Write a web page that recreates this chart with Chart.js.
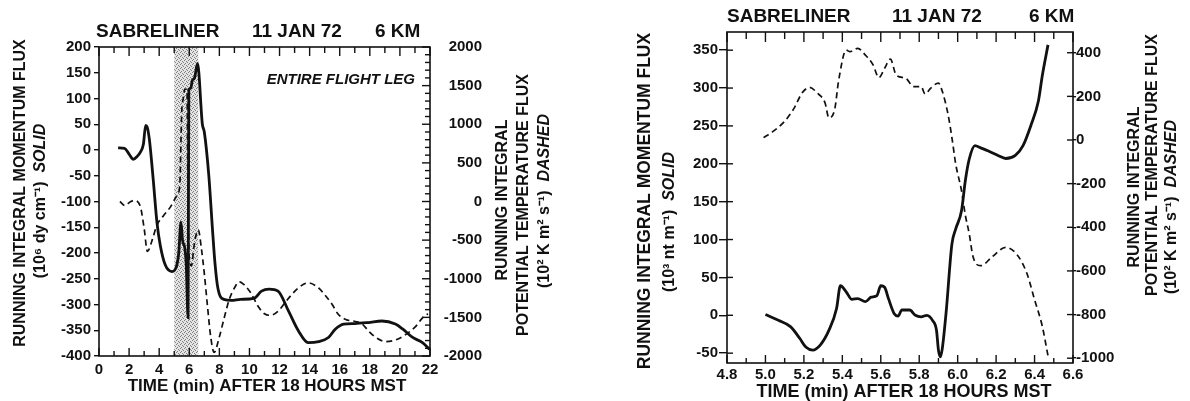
<!DOCTYPE html>
<html>
<head>
<meta charset="utf-8">
<script src="https://cdn.jsdelivr.net/npm/chart.js@4.4.0/dist/chart.umd.min.js"></script>
<style>
    html, body { margin: 0; padding: 0; background: #fff; }
    #wrap { position: relative; width: 1190px; height: 401px; }
    .panel { position: absolute; top: 0; }
    #leftPanel { left: 0; }
    #rightPanel { left: 600px; }
</style>
</head>
<body>
<div id="wrap">
    <div class="panel" id="leftPanel"><canvas id="leftChart" width="600" height="401"></canvas></div>
    <div class="panel" id="rightPanel"><canvas id="rightChart" width="590" height="401"></canvas></div>
</div>
<script>
// ---- Left panel: entire flight leg (0-22 min) ----
const LEFT_SOLID_TIME = [1.27, 1.7, 2.0, 2.28, 2.55, 2.73, 2.95, 3.1, 3.2, 3.35, 3.6, 3.85, 4.07, 4.4, 4.85,
    5.15, 5.3, 5.45, 5.55, 5.7, 5.8, 5.92, 5.97, 6.1, 6.2, 6.35, 6.55, 6.87, 7.0, 7.3, 7.54, 7.7, 7.9,
    8.3, 8.8, 9.4, 10.3, 10.8, 11.3, 11.9, 12.6, 13.25, 13.9, 14.6, 15.25, 15.7, 16.26, 17.0, 17.9,
    18.8, 19.7, 20.2, 20.85, 21.5, 21.97];
const LEFT_MOMENTUM = [4, 3, -8, -18, -12, -5, 11, 48, 45, 20, -56, -140, -185, -223, -236,
    -226, -200, -140, -175, -190, -223, -326, 117, 120, 135, 140, 168, 50, 35, -50, -153, -217, -268,
    -290, -292, -290, -288, -274, -270, -274, -313, -351, -374, -372, -364, -348, -338, -337, -335,
    -332, -338, -348, -364, -374, -387];

const LEFT_DASHED_TIME = [1.39, 1.72, 2.06, 2.33, 2.73, 3.0, 3.22, 3.5, 3.85, 4.3, 4.74, 5.19, 5.37, 5.45,
    5.5, 5.6, 5.7, 5.85, 5.9, 6.0, 6.15, 6.3, 6.45, 6.6, 6.8, 7.0, 7.2, 7.43, 7.65, 7.99, 8.32, 8.66,
    9.0, 9.33, 9.66, 10.1, 10.56, 11.0, 11.4, 11.9, 12.35, 12.8, 13.24, 13.9, 14.6, 15.0, 15.5, 15.9,
    16.4, 17.05, 17.5, 17.9, 18.4, 19.06, 19.7, 20.4, 21.07, 21.5, 21.86];
const LEFT_TEMP_FLUX = [0, -53, -7, 13, -53, -347, -647, -520, -307, -180, -73, 80, 207, 800,
    1167, 1333, 1453, 1453, 333, -733, -833, -600, -433, -367, -600, -933, -1333, -1760, -1953, -1760, -1507, -1267,
    -1120, -1040, -1080, -1187, -1353, -1453, -1473, -1420, -1313, -1207, -1120, -1053, -1120, -1207, -1333, -1460,
    -1527, -1553, -1587, -1673, -1760, -1813, -1793, -1720, -1613, -1507, -1453];

const LEFT_SHADE = [5.0, 6.6];
const LEFT_X_TICKS = [0, 2, 4, 6, 8, 10, 12, 14, 16, 18, 20, 22];
const LEFT_Y_TICKS = [-400, -350, -300, -250, -200, -150, -100, -50, 0, 50, 100, 150, 200];
const LEFT_Y2_TICKS = [-2000, -1500, -1000, -500, 0, 500, 1000, 1500, 2000];

// ---- Right panel: 4.8-6.6 min detail ----
const RIGHT_SOLID_TIME = [5.0, 5.07, 5.13, 5.18, 5.21, 5.246, 5.286, 5.33, 5.37, 5.39, 5.42, 5.45, 5.48,
    5.52, 5.55, 5.58, 5.6, 5.62, 5.64, 5.67, 5.69, 5.71, 5.75, 5.78, 5.81, 5.84, 5.87, 5.89, 5.9, 5.91,
    5.92, 5.94, 5.97, 5.99, 6.02, 6.04, 6.06, 6.09, 6.12, 6.16, 6.21, 6.25, 6.3, 6.34, 6.38, 6.42, 6.44, 6.47];
const RIGHT_MOMENTUM = [1, -7, -15, -31, -42, -46, -39, -20, 9, 39, 31, 21, 22,
    18, 24, 26, 39, 37, 22, 2, -1, 7, 7, 0, -2, 0, -7, -20, -46, -55,
    -44, 4, 94, 114, 138, 178, 206, 224, 221, 217, 211, 207, 211, 224, 250, 283, 316, 357];

const RIGHT_DASHED_TIME = [4.99, 5.03, 5.1, 5.15, 5.19, 5.23, 5.27, 5.31, 5.33, 5.36, 5.38, 5.42, 5.44,
    5.48, 5.52, 5.56, 5.59, 5.62, 5.65, 5.68, 5.73, 5.77, 5.81, 5.83, 5.86, 5.9, 5.92, 5.95, 5.97, 5.99,
    6.02, 6.04, 6.06, 6.08, 6.12, 6.18, 6.25, 6.31, 6.36, 6.4, 6.44, 6.47];
const RIGHT_TEMP_FLUX = [11, 33, 86, 147, 215, 241, 215, 170, 102, 139, 268, 412, 405,
    420, 389, 344, 286, 329, 371, 298, 283, 245, 245, 211, 238, 261, 223, 117, 11, -111,
    -232, -345, -429, -535, -576, -535, -492, -527, -611, -732, -853, -989];

const RIGHT_X_TICKS = [4.8, 5.0, 5.2, 5.4, 5.6, 5.8, 6.0, 6.2, 6.4, 6.6];
const RIGHT_Y_TICKS = [-50, 0, 50, 100, 150, 200, 250, 300, 350];
const RIGHT_Y2_TICKS = [-1000, -800, -600, -400, -200, 0, 200, 400];

const TITLE_PARTS = ['SABRELINER', '11 JAN 72', '6 KM'];
const X_TITLE = 'TIME (min) AFTER 18 HOURS MST';

const TICK_FONT = { family: 'Liberation Sans', size: 15, weight: 'bold' };
const TITLE_FONT = 'bold 19px "Liberation Sans"';
const AXIS_FONT = 'bold 16px "Liberation Sans"';
const AXIS_ITALIC = 'italic bold 16px "Liberation Sans"';
const AXIS_FONT_R = 'bold 16px "Liberation Sans"';
const AXIS_ITALIC_R = 'italic bold 16px "Liberation Sans"';

function toPoints(xs, ys) {
    return xs.map((x, i) => ({ x: x, y: ys[i] }));
}

// dotted fill used for the stippled band
function stipple() {
    const c = document.createElement('canvas');
    c.width = 4; c.height = 4;
    const g = c.getContext('2d');
    g.fillStyle = '#e4e4e4';
    g.fillRect(0, 0, 4, 4);
    g.fillStyle = '#808080';
    [[0, 0], [2, 1], [1, 3], [3, 2]].forEach(p => g.fillRect(p[0], p[1], 1, 1));
    return c;
}

function drawParts(ctx, parts, x, y, rotate, align) {
    ctx.save();
    ctx.translate(x, y);
    if (rotate) ctx.rotate(-Math.PI / 2);
    ctx.textBaseline = 'middle';
    ctx.textAlign = 'left';
    let total = 0;
    parts.forEach(p => { ctx.font = p.font; total += ctx.measureText(p.text).width; });
    let cx = align === 'right' ? -total : (align === 'left' ? 0 : -total / 2);
    parts.forEach(p => {
        ctx.font = p.font;
        ctx.fillText(p.text, cx, 0);
        cx += ctx.measureText(p.text).width;
    });
    ctx.restore();
}

const panelDecor = {
    id: 'panelDecor',
    beforeDatasetsDraw(chart, args, opts) {
        if (!opts.shade) return;
        const ctx = chart.ctx;
        const xs = chart.scales.x;
        const a = chart.chartArea;
        const x0 = xs.getPixelForValue(opts.shade[0]);
        const x1 = xs.getPixelForValue(opts.shade[1]);
        ctx.save();
        ctx.fillStyle = ctx.createPattern(stipple(), 'repeat');
        ctx.fillRect(x0, a.top, x1 - x0, a.bottom - a.top);
        ctx.restore();
    },
    afterDraw(chart, args, opts) {
        const ctx = chart.ctx;
        const a = chart.chartArea;
        ctx.save();
        ctx.strokeStyle = '#111';
        ctx.fillStyle = '#111';
        ctx.lineWidth = 1.6;
        ctx.strokeRect(a.left, a.top, a.right - a.left, a.bottom - a.top);

        // inward tick marks
        ctx.lineWidth = 1.4;
        (opts.inTicks || []).forEach(t => {
            const sc = chart.scales[t.scale];
            let n = 0;
            for (let v = t.from; v <= t.to + 1e-9; v += t.step, n++) {
                const len = (t.majorEvery && n % t.majorEvery === 0) ? t.majorLen : t.len;
                const p = sc.getPixelForValue(v);
                ctx.beginPath();
                if (t.edge === 'top') { ctx.moveTo(p, a.top); ctx.lineTo(p, a.top + len); }
                if (t.edge === 'bottom') { ctx.moveTo(p, a.bottom); ctx.lineTo(p, a.bottom - len); }
                if (t.edge === 'right') { ctx.moveTo(a.right, p); ctx.lineTo(a.right - len, p); }
                if (t.edge === 'left') { ctx.moveTo(a.left, p); ctx.lineTo(a.left + len, p); }
                ctx.stroke();
            }
        });

        // title
        ctx.font = TITLE_FONT;
        ctx.textBaseline = 'middle';
        ctx.textAlign = 'left';
        opts.title.forEach((t, i) => ctx.fillText(TITLE_PARTS[i], t, opts.titleY));

        (opts.texts || []).forEach(t => drawParts(ctx, t.parts, t.x, t.y, t.rotate, t.align));
        ctx.restore();
    }
};

function fixWidth(w) { return function (scale) { scale.width = w; }; }
function fixHeight(h) { return function (scale) { scale.height = h; }; }
function useTicks(values) {
    return function (scale) { scale.ticks = values.map(v => ({ value: v })); };
}
const plain = v => String(v);

function baseLine(data, axis, dashed) {
    return {
        data: data,
        yAxisID: axis,
        borderColor: '#111',
        borderWidth: dashed ? 1.7 : 2.8,
        borderDash: dashed ? [6, 4] : [],
        pointRadius: 0,
        fill: false,
        cubicInterpolationMode: 'monotone'
    };
}

// ---------------- left chart ----------------
new Chart(document.getElementById('leftChart'), {
    type: 'line',
    data: {
        datasets: [
            baseLine(toPoints(LEFT_SOLID_TIME, LEFT_MOMENTUM), 'y', false),
            baseLine(toPoints(LEFT_DASHED_TIME, LEFT_TEMP_FLUX), 'y2', true)
        ]
    },
    options: {
        responsive: false,
        animation: false,
        layout: { padding: { top: 47, left: 0, right: 118, bottom: 0 } },
        scales: {
            x: {
                type: 'linear', min: 0, max: 22,
                afterFit: fixHeight(45),
                afterBuildTicks: useTicks(LEFT_X_TICKS),
                grid: { display: false, drawTicks: false },
                border: { display: false },
                ticks: { padding: 5, color: '#111', font: TICK_FONT, maxRotation: 0, callback: plain }
            },
            y: {
                min: -400, max: 200,
                afterFit: fixWidth(99),
                afterBuildTicks: useTicks(LEFT_Y_TICKS),
                grid: { drawOnChartArea: false, tickLength: 5, color: '#111', lineWidth: 1.4 },
                border: { display: false },
                ticks: { padding: 3, color: '#111', font: TICK_FONT, callback: plain }
            },
            y2: {
                position: 'right', min: -2000, max: 2000,
                afterFit: fixWidth(52),
                afterBuildTicks: useTicks(LEFT_Y2_TICKS),
                grid: { drawOnChartArea: false, drawTicks: false },
                border: { display: false },
                ticks: { padding: 2, color: '#111', font: TICK_FONT, crossAlign: 'far', callback: plain }
            }
        },
        plugins: {
            legend: { display: false },
            tooltip: { enabled: false },
            panelDecor: {
                shade: LEFT_SHADE,
                title: [96, 252, 375],
                titleY: 32,
                inTicks: [
                    { scale: 'x', edge: 'top', from: 0, to: 22, step: 1, len: 6, majorEvery: 2, majorLen: 9 },
                    { scale: 'x', edge: 'bottom', from: 0, to: 22, step: 1, len: 5, majorEvery: 2, majorLen: 8 },
                    { scale: 'y2', edge: 'right', from: -2000, to: 2000, step: 100, len: 5, majorEvery: 5, majorLen: 8 }
                ],
                texts: [
                    { x: 21, y: 193, rotate: true, parts: [{ text: 'RUNNING INTEGRAL MOMENTUM FLUX', font: AXIS_FONT }] },
                    { x: 41, y: 201, rotate: true, parts: [{ text: '(10\u2076 dy cm\u207B\u00B9)  ', font: AXIS_FONT }, { text: 'SOLID', font: AXIS_ITALIC }] },
                    { x: 503, y: 200, rotate: true, parts: [{ text: 'RUNNING INTEGRAL', font: AXIS_FONT }] },
                    { x: 524, y: 205, rotate: true, parts: [{ text: 'POTENTIAL TEMPERATURE FLUX', font: AXIS_FONT }] },
                    { x: 545, y: 201, rotate: true, parts: [{ text: '(10\u00B2 K m\u00B2 s\u207B\u00B9)  ', font: AXIS_FONT }, { text: 'DASHED', font: AXIS_ITALIC }] },
                    { x: 267, y: 386, parts: [{ text: X_TITLE, font: 'bold 17px "Liberation Sans"' }] },
                    { x: 415, y: 80, align: 'right', parts: [{ text: 'ENTIRE FLIGHT LEG', font: 'italic bold 15px "Liberation Sans"' }] }
                ]
            }
        }
    },
    plugins: [panelDecor]
});

// ---------------- right chart ----------------
new Chart(document.getElementById('rightChart'), {
    type: 'line',
    data: {
        datasets: [
            baseLine(toPoints(RIGHT_SOLID_TIME, RIGHT_MOMENTUM), 'y', false),
            baseLine(toPoints(RIGHT_DASHED_TIME, RIGHT_TEMP_FLUX), 'y2', true)
        ]
    },
    options: {
        responsive: false,
        animation: false,
        layout: { padding: { top: 32, left: 0, right: 57, bottom: 0 } },
        scales: {
            x: {
                type: 'linear', min: 4.8, max: 6.6,
                afterFit: fixHeight(38),
                afterBuildTicks: useTicks(RIGHT_X_TICKS),
                grid: { display: false, drawTicks: false },
                border: { display: false },
                ticks: { padding: 3, color: '#111', font: TICK_FONT, maxRotation: 0, callback: v => v.toFixed(1) }
            },
            y: {
                min: -63, max: 374,
                afterFit: fixWidth(127),
                afterBuildTicks: useTicks(RIGHT_Y_TICKS),
                grid: { drawOnChartArea: false, tickLength: 8, color: '#111', lineWidth: 1.4 },
                border: { display: false },
                ticks: { padding: 1, color: '#111', font: TICK_FONT, callback: plain }
            },
            y2: {
                position: 'right', min: -1022, max: 495,
                afterFit: fixWidth(60),
                afterBuildTicks: useTicks(RIGHT_Y2_TICKS),
                grid: { drawOnChartArea: false, tickLength: 3, color: '#111', lineWidth: 1.4 },
                border: { display: false },
                ticks: { padding: 0, color: '#111', font: TICK_FONT, callback: plain }
            }
        },
        plugins: {
            legend: { display: false },
            tooltip: { enabled: false },
            panelDecor: {
                shade: null,
                title: [127, 292, 429],
                titleY: 17,
                inTicks: [
                    { scale: 'x', edge: 'top', from: 4.8, to: 6.6, step: 0.1, len: 7, majorEvery: 2, majorLen: 10 },
                    { scale: 'x', edge: 'bottom', from: 4.8, to: 6.6, step: 0.1, len: 5, majorEvery: 2, majorLen: 8 },
                    { scale: 'y', edge: 'left', from: -50, to: 350, step: 50, len: 6 },
                    { scale: 'y2', edge: 'right', from: -1000, to: 400, step: 200, len: 6 }
                ],
                texts: [
                    { x: 45, y: 201, rotate: true, parts: [{ text: 'RUNNING INTEGRAL MOMENTUM FLUX', font: 'bold 17.5px "Liberation Sans"' }] },
                    { x: 70, y: 222, rotate: true, parts: [{ text: '(10\u00B3 nt m\u207B\u00B9)  ', font: AXIS_FONT_R }, { text: 'SOLID', font: AXIS_ITALIC_R }] },
                    { x: 535, y: 187, rotate: true, parts: [{ text: 'RUNNING INTEGRAL', font: AXIS_FONT_R }] },
                    { x: 553, y: 165, rotate: true, parts: [{ text: 'POTENTIAL TEMPERATURE FLUX', font: AXIS_FONT_R }] },
                    { x: 572, y: 207, rotate: true, parts: [{ text: '(10\u00B2 K m\u00B2 s\u207B\u00B9)  ', font: AXIS_FONT_R }, { text: 'DASHED', font: AXIS_ITALIC_R }] },
                    { x: 304, y: 392, parts: [{ text: X_TITLE, font: 'bold 18px "Liberation Sans"' }] }
                ]
            }
        }
    },
    plugins: [panelDecor]
});
</script>
</body>
</html>
